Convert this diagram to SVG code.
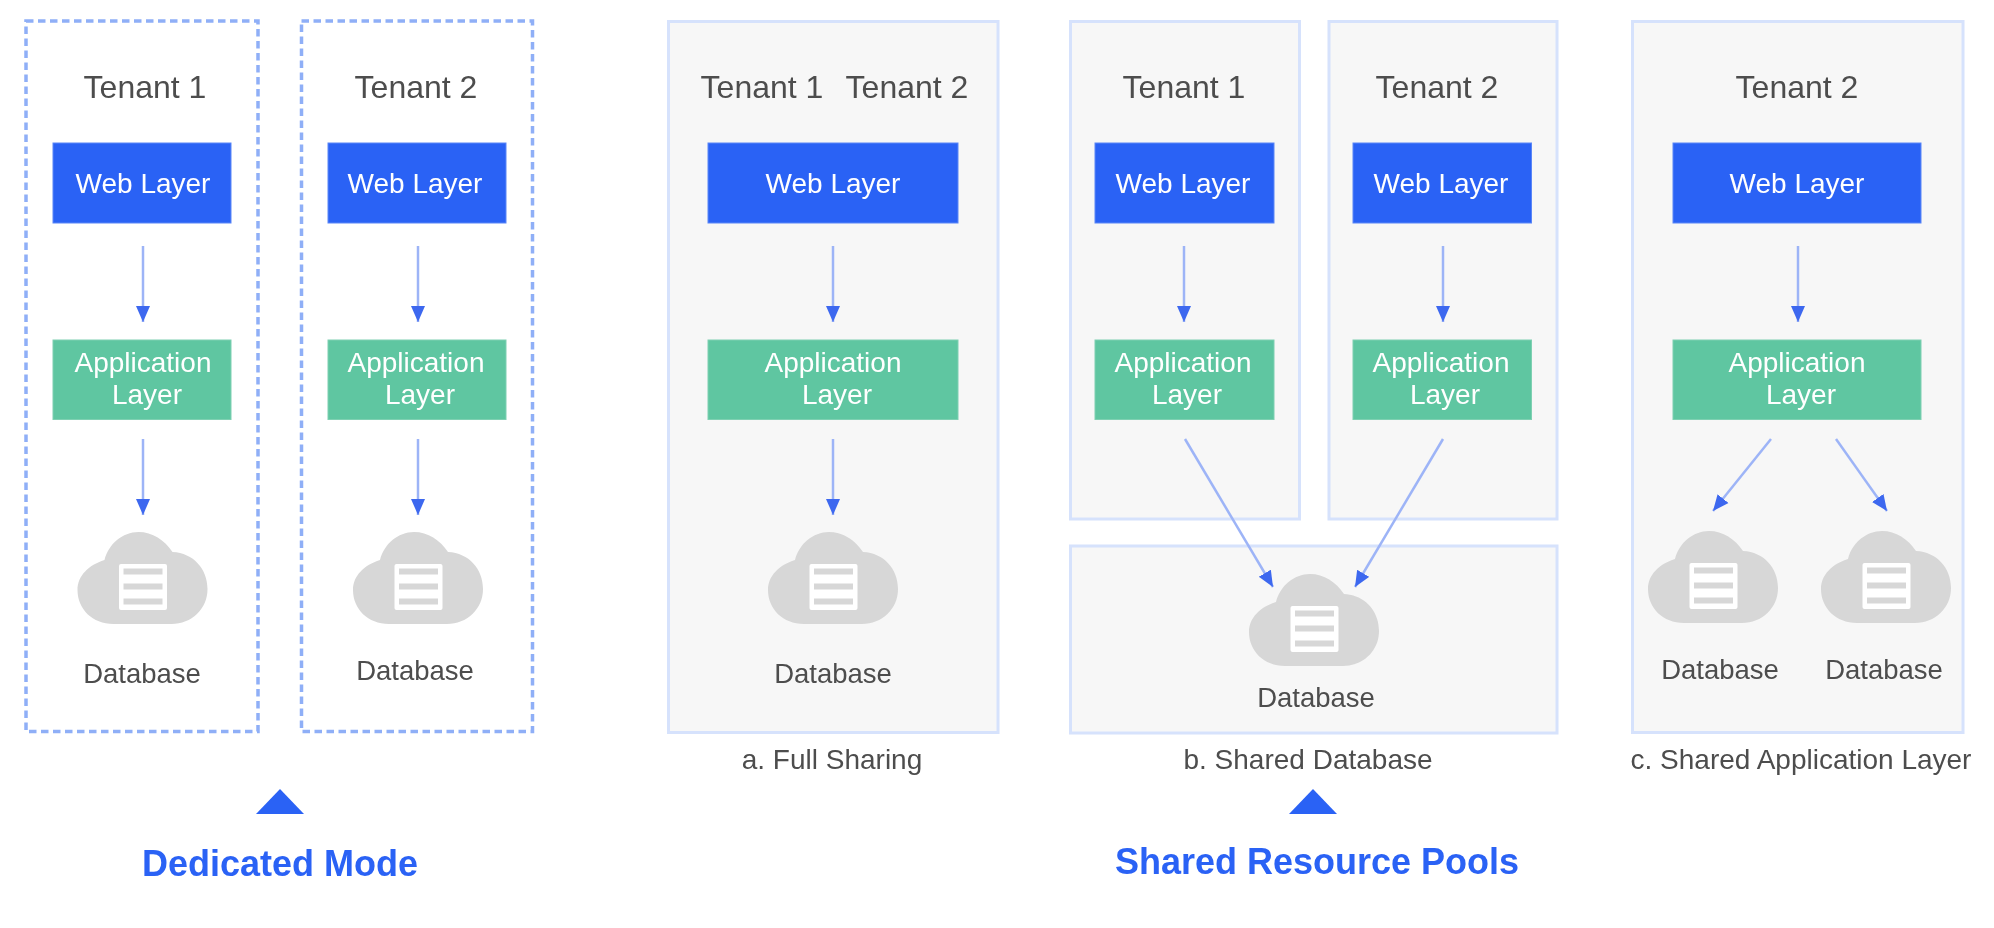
<svg xmlns="http://www.w3.org/2000/svg" width="1994" height="928" viewBox="0 0 1994 928">
<style>
text{font-family:"Liberation Sans",Arial,sans-serif;text-anchor:middle;fill:#4d4d4d}
.t{font-size:32px}.d{font-size:27.500px}.c{font-size:28px}
.w{font-size:28px;fill:#fff}
.h{font-size:36px;font-weight:bold;fill:#2b62f5}
.pn{fill:#f7f7f7;stroke:#d6e2fc;stroke-width:3}
.ds{fill:#fff;stroke:#8fafF7;stroke-width:3.500;stroke-dasharray:7.500 4.500}
.web{fill:#2b62f5;stroke:#5a86f7;stroke-width:1}
.app{fill:#5fc6a1;stroke:#7fd0b2;stroke-width:1}
.tri{fill:#2b62f5}
.ar{stroke:#9db4f7;stroke-width:2.500;fill:none;marker-end:url(#ah)}
</style>
<defs>
<filter id="soft" x="-2%" y="-2%" width="104%" height="104%"><feGaussianBlur stdDeviation="0.6"/></filter>
<marker id="ah" markerUnits="userSpaceOnUse" markerWidth="17" markerHeight="16" refX="16" refY="7.500" orient="auto"><path d="M0 0.500 L16 7.500 L0 14.500 Z" fill="#3d68ef"/></marker>
<g id="cloud">
<path fill="#d7d7d7" d="M36 92 C15 92 0 77 0 58 C0 44 11 33 27 28 C31 12 45 0 61 0 C75 0 87 8 95 20 C116 21 130 37 130 57 C130 77 114 92 94 92 Z"/>
<rect x="41.500" y="32" width="48" height="46" rx="2" fill="#fff"/>
<rect x="46" y="36.500" width="39" height="6" fill="#d7d7d7"/>
<rect x="46" y="51.500" width="39" height="6" fill="#d7d7d7"/>
<rect x="46" y="66.500" width="39" height="6" fill="#d7d7d7"/>
</g>
</defs>
<rect width="1994" height="928" fill="#fff"/>
<g filter="url(#soft)">
<g id="tenant-1-dedicated">
<rect class="ds" x="26" y="21" width="232" height="710.500"/>
<text class="t" x="145" y="98">Tenant 1</text>
<rect class="web" x="53" y="143" width="178" height="80"/><text class="w" x="143" y="193">Web Layer</text>
<rect class="app" x="53" y="340" width="178" height="79.500"/><text class="w" x="143" y="372">Application</text><text class="w" x="147" y="404">Layer</text>
<use href="#cloud" x="77.500" y="532"/><text class="d" x="142" y="683">Database</text>
</g>
<g id="tenant-2-dedicated">
<rect class="ds" x="301.500" y="21" width="231" height="710.500"/>
<text class="t" x="416" y="98">Tenant 2</text>
<rect class="web" x="328" y="143" width="178" height="80"/><text class="w" x="415" y="193">Web Layer</text>
<rect class="app" x="328" y="340" width="178" height="79.500"/><text class="w" x="416" y="372">Application</text><text class="w" x="420" y="404">Layer</text>
<use href="#cloud" x="353" y="532"/><text class="d" x="415" y="680">Database</text>
</g>
<g id="dedicated-title">
<path class="tri" d="M280 789 L304 814 L256 814 Z"/>
<text class="h" x="280" y="875.500">Dedicated Mode</text>
</g>
<g id="full-sharing">
<rect class="pn" x="668.500" y="21.500" width="329.500" height="711"/>
<text class="t" x="762" y="98">Tenant 1</text><text class="t" x="907" y="98">Tenant 2</text>
<rect class="web" x="708" y="143" width="250" height="80"/><text class="w" x="833" y="193">Web Layer</text>
<rect class="app" x="708" y="340" width="250" height="79.500"/><text class="w" x="833" y="372">Application</text><text class="w" x="837" y="404">Layer</text>
<use href="#cloud" x="768" y="532"/><text class="d" x="833" y="683">Database</text>
<text class="c" x="832" y="769">a. Full Sharing</text>
</g>
<g id="shared-db-tenant-1">
<rect class="pn" x="1070.500" y="21.500" width="229" height="497.500"/>
<text class="t" x="1184" y="98">Tenant 1</text>
<rect class="web" x="1095" y="143" width="179" height="80"/><text class="w" x="1183" y="193">Web Layer</text>
<rect class="app" x="1095" y="340" width="179" height="79.500"/><text class="w" x="1183" y="372">Application</text><text class="w" x="1187" y="404">Layer</text>
</g>
<g id="shared-db-tenant-2">
<rect class="pn" x="1329" y="21.500" width="228" height="497.500"/>
<text class="t" x="1437" y="98">Tenant 2</text>
<rect class="web" x="1353" y="143" width="178.500" height="80"/><text class="w" x="1441" y="193">Web Layer</text>
<rect class="app" x="1353" y="340" width="178.500" height="79.500"/><text class="w" x="1441" y="372">Application</text><text class="w" x="1445" y="404">Layer</text>
</g>
<g id="shared-db-database">
<rect class="pn" x="1070.500" y="546" width="486.500" height="187"/>
<use href="#cloud" x="1249" y="574"/><text class="d" x="1316" y="707">Database</text>
<text class="c" x="1308" y="769">b. Shared Database</text>
</g>
<g id="shared-title">
<path class="tri" d="M1313 789 L1337 814 L1289 814 Z"/>
<text class="h" x="1317" y="873.500">Shared Resource Pools</text>
</g>
<g id="shared-app">
<rect class="pn" x="1632.500" y="21.500" width="330.500" height="711"/>
<text class="t" x="1797" y="98">Tenant 2</text>
<rect class="web" x="1673" y="143" width="248" height="80"/><text class="w" x="1797" y="193">Web Layer</text>
<rect class="app" x="1673" y="340" width="248" height="79.500"/><text class="w" x="1797" y="372">Application</text><text class="w" x="1801" y="404">Layer</text>
<use href="#cloud" x="1648" y="531"/><text class="d" x="1720" y="679">Database</text>
<use href="#cloud" x="1821" y="531"/><text class="d" x="1884" y="679">Database</text>
<text class="c" x="1801" y="769">c. Shared Application Layer</text>
</g>
<g id="connectors">
<path class="ar" d="M143 246V322"/><path class="ar" d="M143 439V515"/>
<path class="ar" d="M418 246V322"/><path class="ar" d="M418 439V515"/>
<path class="ar" d="M833 246V322"/><path class="ar" d="M833 439V515"/>
<path class="ar" d="M1184 246V322"/><path class="ar" d="M1443 246V322"/>
<path class="ar" d="M1185 439L1273 587"/><path class="ar" d="M1443 439L1355 587"/>
<path class="ar" d="M1798 246V322"/>
<path class="ar" d="M1771 439L1713 511"/><path class="ar" d="M1836 439L1887 511"/>
</g>
</g>
</svg>
